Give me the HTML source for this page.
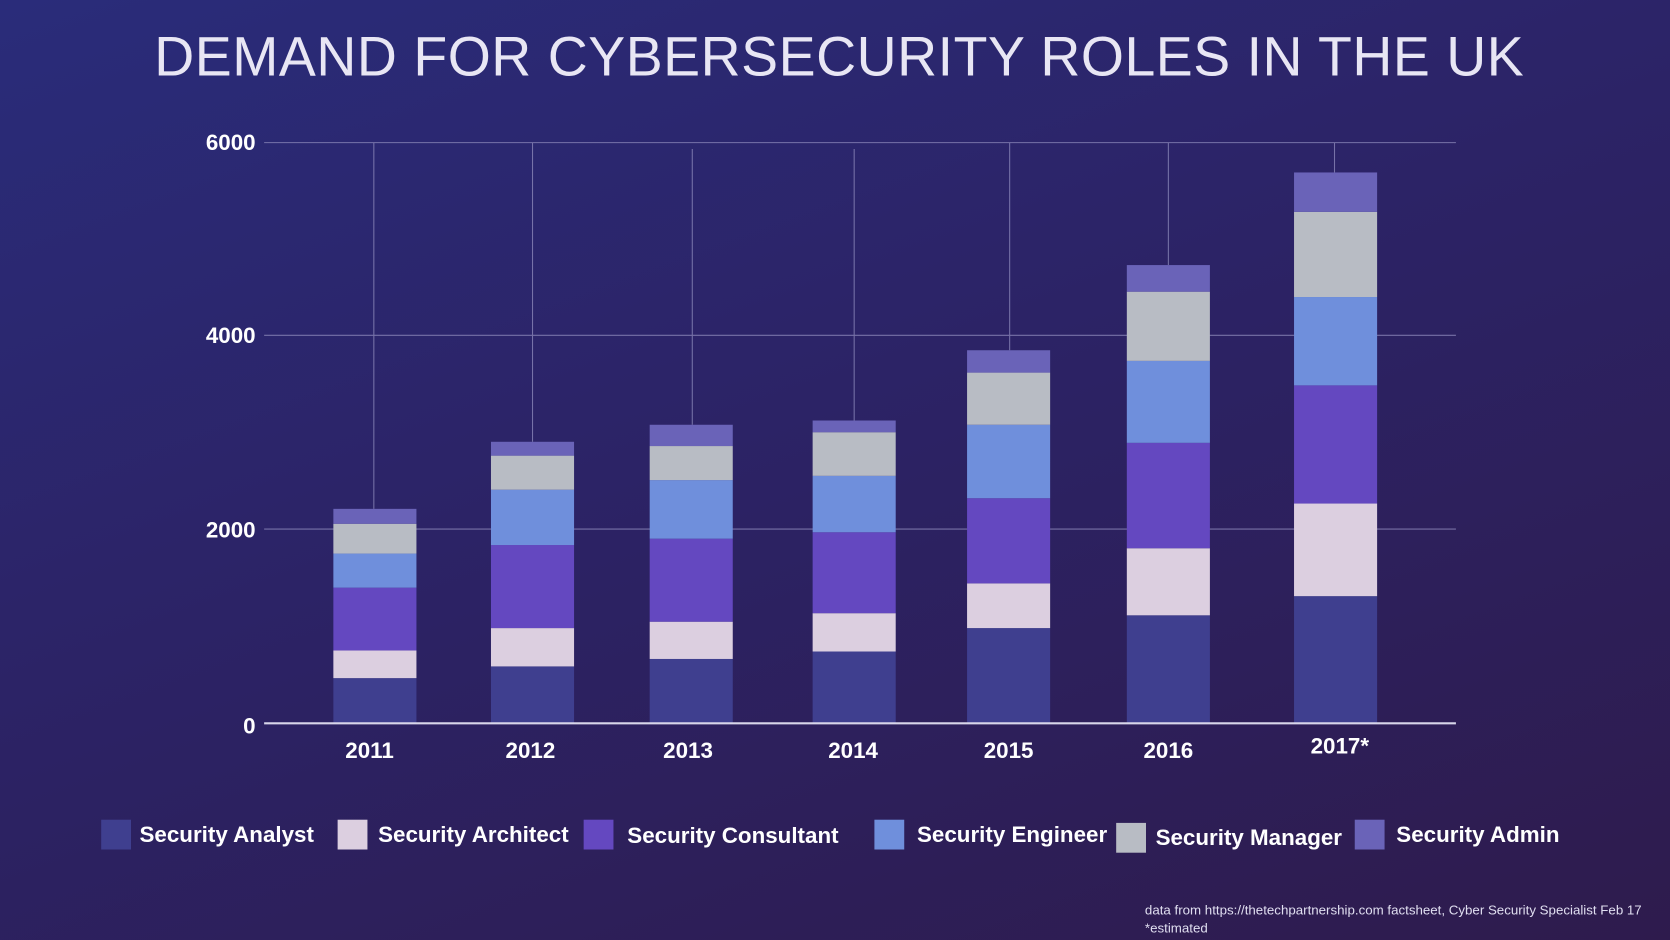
<!DOCTYPE html>
<html><head><meta charset="utf-8"><style>
html,body{margin:0;padding:0;width:1670px;height:940px;overflow:hidden;}
body{background:linear-gradient(160deg,#2a2c7a 0%,#2c2366 45%,#2e1b4d 100%);}
svg{display:block}
text{font-family:"Liberation Sans",sans-serif;}
</style></head><body>
<svg width="1670" height="940" viewBox="0 0 1568 883" preserveAspectRatio="none">
<text x="788" y="71" text-anchor="middle" fill="#e8e6f4" font-size="52" letter-spacing="0.5" style="font-weight:300">DEMAND FOR CYBERSECURITY ROLES IN THE UK</text>
<g stroke="#8a86b8" stroke-width="1" opacity="0.8">
<line x1="248" y1="134" x2="1367" y2="134"/>
<line x1="248" y1="315" x2="1367" y2="315"/>
<line x1="248" y1="497" x2="1367" y2="497"/>
<line x1="351" y1="134" x2="351" y2="478"/>
<line x1="500" y1="134" x2="500" y2="415"/>
<line x1="650" y1="140" x2="650" y2="399"/>
<line x1="802" y1="140" x2="802" y2="395"/>
<line x1="948" y1="134" x2="948" y2="329"/>
<line x1="1097" y1="134" x2="1097" y2="249"/>
<line x1="1253" y1="134" x2="1253" y2="162"/>
</g>
<g>
<rect x="313" y="637" width="78" height="42" fill="#3f3f8f"/><rect x="313" y="611" width="78" height="26" fill="#dccfe0"/><rect x="313" y="552" width="78" height="59" fill="#6448c0"/><rect x="313" y="520" width="78" height="32" fill="#6f8fdc"/><rect x="313" y="492" width="78" height="28" fill="#b8bcc4"/><rect x="313" y="478" width="78" height="14" fill="#6a63b8"/>
<rect x="461" y="626" width="78" height="53" fill="#3f3f8f"/><rect x="461" y="590" width="78" height="36" fill="#dccfe0"/><rect x="461" y="512" width="78" height="78" fill="#6448c0"/><rect x="461" y="460" width="78" height="52" fill="#6f8fdc"/><rect x="461" y="428" width="78" height="32" fill="#b8bcc4"/><rect x="461" y="415" width="78" height="13" fill="#6a63b8"/>
<rect x="610" y="619" width="78" height="60" fill="#3f3f8f"/><rect x="610" y="584" width="78" height="35" fill="#dccfe0"/><rect x="610" y="506" width="78" height="78" fill="#6448c0"/><rect x="610" y="451" width="78" height="55" fill="#6f8fdc"/><rect x="610" y="419" width="78" height="32" fill="#b8bcc4"/><rect x="610" y="399" width="78" height="20" fill="#6a63b8"/>
<rect x="763" y="612" width="78" height="67" fill="#3f3f8f"/><rect x="763" y="576" width="78" height="36" fill="#dccfe0"/><rect x="763" y="500" width="78" height="76" fill="#6448c0"/><rect x="763" y="447" width="78" height="53" fill="#6f8fdc"/><rect x="763" y="406" width="78" height="41" fill="#b8bcc4"/><rect x="763" y="395" width="78" height="11" fill="#6a63b8"/>
<rect x="908" y="590" width="78" height="89" fill="#3f3f8f"/><rect x="908" y="548" width="78" height="42" fill="#dccfe0"/><rect x="908" y="468" width="78" height="80" fill="#6448c0"/><rect x="908" y="399" width="78" height="69" fill="#6f8fdc"/><rect x="908" y="350" width="78" height="49" fill="#b8bcc4"/><rect x="908" y="329" width="78" height="21" fill="#6a63b8"/>
<rect x="1058" y="578" width="78" height="101" fill="#3f3f8f"/><rect x="1058" y="515" width="78" height="63" fill="#dccfe0"/><rect x="1058" y="416" width="78" height="99" fill="#6448c0"/><rect x="1058" y="339" width="78" height="77" fill="#6f8fdc"/><rect x="1058" y="274" width="78" height="65" fill="#b8bcc4"/><rect x="1058" y="249" width="78" height="25" fill="#6a63b8"/>
<rect x="1215" y="560" width="78" height="119" fill="#3f3f8f"/><rect x="1215" y="473" width="78" height="87" fill="#dccfe0"/><rect x="1215" y="362" width="78" height="111" fill="#6448c0"/><rect x="1215" y="279" width="78" height="83" fill="#6f8fdc"/><rect x="1215" y="199" width="78" height="80" fill="#b8bcc4"/><rect x="1215" y="162" width="78" height="37" fill="#6a63b8"/>
</g>
<line x1="248" y1="679.5" x2="1367" y2="679.5" stroke="#d8d6ea" stroke-width="2"/>
<g fill="#ffffff" font-size="21" font-weight="bold" text-anchor="end">
<text x="240" y="141">6000</text><text x="240" y="322">4000</text><text x="240" y="505">2000</text><text x="240" y="689">0</text>
</g>
<g fill="#ffffff" font-size="21" font-weight="bold" text-anchor="middle">
<text x="347" y="712">2011</text><text x="498" y="712">2012</text><text x="646" y="712">2013</text><text x="801" y="712">2014</text><text x="947" y="712">2015</text><text x="1097" y="712">2016</text><text x="1258" y="708">2017*</text>
</g>
<g font-size="21" font-weight="bold" fill="#ffffff">
<rect x="95" y="770" width="28" height="28" fill="#3f3f8f"/><text x="131" y="791">Security Analyst</text>
<rect x="317" y="770" width="28" height="28" fill="#dccfe0"/><text x="355" y="791">Security Architect</text>
<rect x="548" y="770" width="28" height="28" fill="#6448c0"/><text x="589" y="792">Security Consultant</text>
<rect x="821" y="770" width="28" height="28" fill="#6f8fdc"/><text x="861" y="791">Security Engineer</text>
<rect x="1048" y="773" width="28" height="28" fill="#b8bcc4"/><text x="1085" y="794">Security Manager</text>
<rect x="1272" y="770" width="28" height="28" fill="#6a63b8"/><text x="1311" y="791">Security Admin</text>
</g>
<g font-size="12.5" fill="#e0def0">
<text x="1075" y="859">data from https://thetechpartnership.com factsheet, Cyber Security Specialist Feb 17</text>
<text x="1075" y="876">*estimated</text>
</g>
</svg>
</body></html>
